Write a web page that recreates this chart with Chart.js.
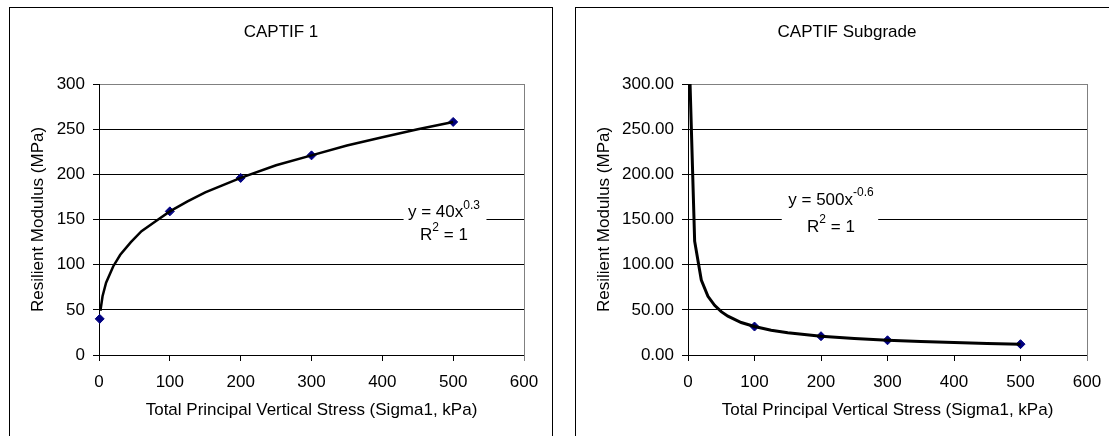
<!DOCTYPE html>
<html>
<head>
<meta charset="utf-8">
<script src="https://cdn.jsdelivr.net/npm/chart.js@4.4.1/dist/chart.umd.min.js"></script>
<style>
  html, body { margin: 0; padding: 0; background: #fff; }
  body { width: 1109px; height: 436px; position: relative; overflow: hidden; }
  .frame { position: absolute; top: 7px; width: 542px; height: 450px; border: 1px solid #000; overflow: hidden; background: #fff; }
  #frame1 { left: 9px; }
  #frame2 { left: 575px; }
  canvas { position: absolute; left: 0; top: 0; }
</style>
</head>
<body>
<div class="frame" id="frame1"><canvas id="chart1" width="542" height="440"></canvas></div>
<div class="frame" id="frame2"><canvas id="chart2" width="542" height="440"></canvas></div>
<script>
// axis ticks
const xTicks = [0, 100, 200, 300, 400, 500, 600];
const yTicks = [0, 50, 100, 150, 200, 250, 300];

const stress1 = [1, 100, 200, 300, 500];
const modulus1 = [40, 159, 196, 221, 258];
const trendX1 = [2, 5, 10, 20, 30, 45, 60, 80, 100, 125, 150, 175, 200, 250, 300, 350, 400, 450, 500];
const trendY1 = [49, 65, 80, 98, 111, 125, 137, 148, 159, 170, 180, 188, 196, 210, 221, 232, 241, 250, 258];

// CAPTIF Subgrade - measured points and power trend (y = 500x^-0.6)
const stress2 = [100, 200, 300, 500];
const modulus2 = [31.5, 20.8, 16.3, 12.0];
const trendX2 = [1.5, 10, 20, 30, 40, 50, 60, 80, 100, 125, 150, 200, 250, 300, 350, 400, 450, 500];
const trendY2 = [340, 126, 83, 65, 55, 48, 43, 36, 31.5, 27.5, 24.7, 20.8, 18.2, 16.3, 14.9, 13.8, 12.8, 12.0];

const FONT = "'Liberation Sans', Arial, sans-serif";
Chart.defaults.font.family = FONT;
Chart.defaults.font.size = 17;
Chart.defaults.color = '#000';

function pairs(xs, ys) {
  return xs.map((x, i) => ({ x: x, y: ys[i] }));
}

// draws text made of normal and superscript parts, centred on cx
function drawParts(ctx, parts, cx, cy) {
  let total = 0;
  parts.forEach(p => {
    ctx.font = (p[1] ? '12px ' : '17px ') + FONT;
    p.w = ctx.measureText(p[0]).width;
    total += p.w;
  });
  let x = cx - total / 2;
  parts.forEach(p => {
    ctx.font = (p[1] ? '12px ' : '17px ') + FONT;
    ctx.fillText(p[0], x, p[1] ? cy - 7 : cy);
    x += p.w;
  });
}

const trendLabel = {
  id: 'trendLabel',
  afterDatasetsDraw(chart, args, o) {
    const { ctx, chartArea, scales } = chart;
    const x = scales.x, y = scales.y;
    ctx.save();
    // grey right edge of the plot area
    ctx.strokeStyle = '#808080';
    ctx.lineWidth = 1;
    const r = Math.round(chartArea.right) + 0.5;
    ctx.beginPath();
    ctx.moveTo(r, chartArea.top);
    ctx.lineTo(r, chartArea.bottom + 6);
    ctx.stroke();

    // equation box
    const bx1 = x.getPixelForValue(o.box[0]), bx2 = x.getPixelForValue(o.box[1]);
    const by1 = y.getPixelForValue(o.box[2]), by2 = y.getPixelForValue(o.box[3]);
    ctx.fillStyle = '#fff';
    ctx.fillRect(bx1, by1, bx2 - bx1, by2 - by1);
    ctx.fillStyle = '#000';
    ctx.textBaseline = 'middle';
    ctx.textAlign = 'left';
    const cx = x.getPixelForValue(o.cx);
    drawParts(ctx, [[o.eq, false], [o.exp, true]], cx, y.getPixelForValue(o.y1));
    drawParts(ctx, [['R', false], ['2', true], [' = 1', false]], cx, y.getPixelForValue(o.y2));
    ctx.restore();
  }
};

function makeChart(id, title, pts, trend, lineW, side, yAxisW, yTitlePad, yFmt, label) {
  return new Chart(document.getElementById(id), {
    type: 'scatter',
    data: {
      datasets: [
        {
          data: trend,
          showLine: true,
          borderColor: '#000',
          borderWidth: lineW,
          pointRadius: 0,
          tension: 0,
          fill: false
        },
        {
          data: pts,
          clip: false,
          pointStyle: 'rectRot',
          pointRadius: 4.5,
          backgroundColor: '#000080',
          borderColor: '#000080',
          borderWidth: 1
        }
      ]
    },
    options: {
      responsive: false,
      animation: false,
      layout: { padding: { left: side, right: side, top: 0, bottom: 0 } },
      plugins: {
        legend: { display: false },
        tooltip: { enabled: false },
        title: {
          display: true,
          text: title,
          font: { size: 17, weight: 'normal' },
          padding: { top: 13.8, bottom: 41.8 }
        },
        trendLabel: label
      },
      scales: {
        x: {
          type: 'linear',
          min: 0,
          max: 600,
          afterBuildTicks: s => { s.ticks = xTicks.map(v => ({ value: v })); },
          afterFit: s => { s.height = 93; },
          ticks: { padding: 11, font: { size: 17 } },
          grid: { drawOnChartArea: false, drawTicks: true, tickLength: 6, tickColor: '#000' },
          border: { color: '#000', width: 1 },
          title: {
            display: true,
            text: 'Total Principal Vertical Stress (Sigma1, kPa)',
            font: { size: 17 },
            padding: { top: 0, bottom: 27.8 }
          }
        },
        y: {
          type: 'linear',
          min: 0,
          max: 300,
          afterBuildTicks: s => { s.ticks = yTicks.map(v => ({ value: v })); },
          afterFit: s => { s.width = yAxisW; },
          ticks: { padding: 8, font: { size: 17 }, callback: yFmt },
          grid: {
            color: c => (c.tick && c.tick.value === 300 ? '#808080' : '#000'),
            tickColor: '#000',
            tickLength: 6,
            lineWidth: 1
          },
          border: { color: '#000', width: 1 },
          title: {
            display: true,
            text: 'Resilient Modulus (MPa)',
            font: { size: 17 },
            padding: { top: yTitlePad, bottom: 0 }
          }
        }
      }
    },
    plugins: [trendLabel]
  });
}

makeChart('chart1', 'CAPTIF 1', pairs(stress1, modulus1), pairs(trendX1, trendY1), 2.5, 28, 61, -9.5,
  v => String(v),
  { eq: 'y = 40x', exp: '0.3', cx: 487, y1: 158, y2: 133, box: [430, 547, 169, 122] });

makeChart('chart2', 'CAPTIF Subgrade', pairs(stress2, modulus2), pairs(trendX2, trendY2), 3, 31, 81, -12.6,
  v => v.toFixed(2),
  { eq: 'y = 500x', exp: '-0.6', cx: 215, y1: 171.6, y2: 141.7, box: [141, 286, 182, 130] });
</script>
</body>
</html>
